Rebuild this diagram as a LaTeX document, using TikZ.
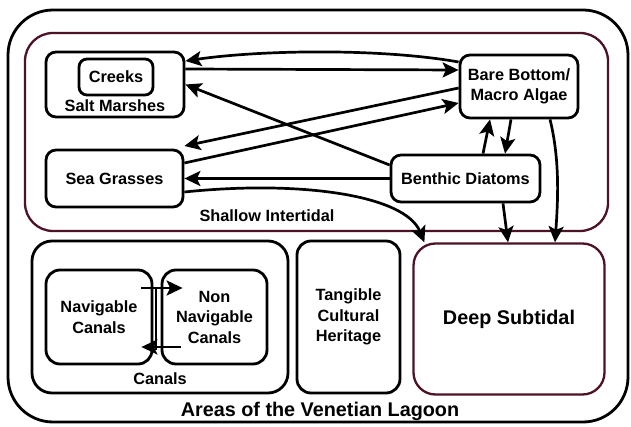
\documentclass[tikz,border=0pt]{standalone}
\usepackage{fontspec}
\setmainfont{Liberation Sans}
\usetikzlibrary{arrows.meta}
\definecolor{zonered}{RGB}{78,18,40}
\begin{document}
\begin{tikzpicture}[x=1pt,y=-1pt,
  every node/.style={font=\bfseries\fontsize{16.3}{20.5}\selectfont, align=center, inner sep=0pt},
  area/.style={draw, line width=2.8pt, rounded corners=#1},
  area/.default=10pt,
  zone/.style={draw=zonered, line width=2.3pt, rounded corners=#1},
  flow/.style={line width=2.7pt, -{Stealth[length=16pt,width=15pt,inset=3.5pt]}},
  big/.style={font=\bfseries\fontsize{19.8}{23}\selectfont}
]
\useasboundingbox[fill=white] (0,0) rectangle (631,427);

% lagoon frame and its areas
\node[area=45pt, minimum width=620pt, minimum height=412pt] (lagoon) at (318,216) {};
\node[zone=28pt, minimum width=583pt, minimum height=198pt] (shallow) at (316.5,132) {};
\node[zone=22pt, minimum width=191pt, minimum height=151pt, big] (deep) at (509,319) {Deep Subtidal};
\node[area=20pt, minimum width=256pt, minimum height=152pt] (canals) at (160,317) {};
\node[area=14pt, minimum width=103pt, minimum height=152pt] (heritage) at (348.5,317) {Tangible\\Cultural\\Heritage};

% shallow intertidal habitats
\node[area, minimum width=138pt, minimum height=65pt] (salt) at (115,84.5) {};
\node[area=8pt, minimum width=74pt, minimum height=36pt] (creeks) at (116,77) {Creeks};
\node (saltlbl) at (115,106) {Salt Marshes};
\node[area, minimum width=137pt, minimum height=57pt] (sea) at (114.5,178.5) {Sea Grasses};
\node[area, minimum width=118pt, minimum height=63pt] (bare) at (519,86.5) {Bare Bottom/\\Macro Algae};
\node[area, minimum width=149pt, minimum height=47pt] (benthic) at (465.5,178.5) {Benthic Diatoms};
\node (shallowlbl) at (267,216) {Shallow Intertidal};

% canals
\node[area=14pt, minimum width=106pt, minimum height=94pt] (nav) at (99,317) {Navigable\\Canals};
\node[area=14pt, minimum width=105pt, minimum height=94pt] (nonnav) at (214.5,317) {Non\\Navigable\\Canals};
\node (canalslbl) at (160,379) {Canals};
\node[big] (lagoonlbl) at (320,411) {Areas of the Venetian Lagoon};

% exchanges between habitats
\draw[flow] ([yshift=24.5pt]bare.west) .. controls (380,48) and (260,50) .. ([yshift=23.5pt]salt.east);
\draw[flow] ([yshift=15.5pt]salt.east) -- ([yshift=16.5pt]bare.west);
\draw[flow] ([yshift=13.5pt]benthic.west) -- (salt.east);
\draw[flow] ([yshift=-1.5pt]bare.west) -- ([yshift=32.5pt]sea.east);
\draw[flow] ([yshift=15.5pt]sea.east) -- ([yshift=-16.5pt]bare.west);
\draw[flow] (benthic.west) -- (sea.east);
\draw[flow] ([yshift=-13.5pt]sea.east) .. controls (300,180) and (405,195) .. ([xshift=12pt]deep.north west);
\draw[flow] ([xshift=17.5pt]benthic.north) -- ([xshift=-29pt]bare.south);
\draw[flow] ([xshift=-8pt]bare.south) -- ([xshift=39.5pt]benthic.north);
\draw[flow] ([xshift=37.5pt]benthic.south) -- ([xshift=-1pt]deep.north);
\draw[flow] ([xshift=31pt]bare.south) .. controls (560,160) and (558,200) .. ([xshift=46pt]deep.north);

% exchanges between canals
\draw[flow] ([xshift=-12pt,yshift=29pt]nav.east) -- ([xshift=22pt,yshift=29pt]nonnav.west);
\draw[flow] ([xshift=20pt,yshift=-30pt]nonnav.west) -- ([xshift=-12pt,yshift=-30pt]nav.east);
\draw[line width=2.7pt] ([xshift=2.5pt,yshift=29pt]nav.east) -- ([xshift=2.5pt,yshift=-33pt]nav.east);
\end{tikzpicture}
\end{document}
